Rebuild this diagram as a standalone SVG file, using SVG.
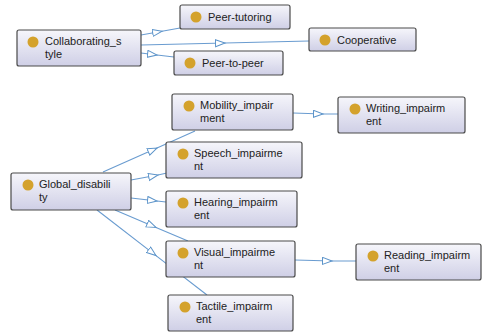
<svg xmlns="http://www.w3.org/2000/svg" width="482" height="334" viewBox="0 0 482 334">
<defs>
<linearGradient id="nodeFill" x1="0" y1="0" x2="0" y2="1">
<stop offset="0" stop-color="#f6f6fb"/>
<stop offset="1" stop-color="#cfcfe6"/>
</linearGradient>
<marker id="tri" markerWidth="12" markerHeight="10" refX="10" refY="4" orient="auto" markerUnits="userSpaceOnUse">
<path d="M0.5,0.5 L10,4 L0.5,7.5 Z" fill="#ffffff" stroke="#5b93c9" stroke-width="1"/>
</marker>
</defs>
<style>
.edge{fill:none;stroke:#6a9cd0;stroke-width:1.1;marker-mid:url(#tri)}
.box{fill:url(#nodeFill);stroke:#4a4a4a;stroke-width:1.2}
.dot{fill:#d4a22c}
.lbl{font-family:"Liberation Sans",Arial,sans-serif;font-size:11px;fill:#222}
</style>
<rect width="482" height="334" fill="#ffffff"/>
<g id="connectors">
<path class="edge" d="M141,35 L162,31.2 L180,28"/>
<path class="edge" d="M141,45 L225,43 L309,41"/>
<path class="edge" d="M141,53 L157,55 L174,57"/>
<path class="edge" d="M103,172 L157,148 L195,131"/>
<path class="edge" d="M131,180 L158,175 L167,173"/>
<path class="edge" d="M131,198 L157,201 L166,202"/>
<path class="edge" d="M115,210 L156,227.4 L188,241"/>
<path class="edge" d="M97,210 L156,255.6 L207,295"/>
<path class="edge" d="M293,113 L323,114 L338,114"/>
<path class="edge" d="M295,260 L332,261 L356,261"/>
</g>
<g id="Collaborating_style">
<rect class="box" x="17" y="30" width="124" height="36" rx="2"/>
<circle class="dot" cx="33" cy="42" r="5.5"/>
<text class="lbl" x="45" y="45">Collaborating_s</text>
<text class="lbl" x="45" y="58">tyle</text>
</g>
<g id="Peer-tutoring">
<rect class="box" x="180" y="5" width="110" height="24" rx="2"/>
<circle class="dot" cx="196" cy="17" r="5.5"/>
<text class="lbl" x="208" y="21">Peer-tutoring</text>
</g>
<g id="Cooperative">
<rect class="box" x="309" y="28" width="107" height="23" rx="2"/>
<circle class="dot" cx="325" cy="40" r="5.5"/>
<text class="lbl" x="337" y="44">Cooperative</text>
</g>
<g id="Peer-to-peer">
<rect class="box" x="174" y="51" width="109" height="24" rx="2"/>
<circle class="dot" cx="190" cy="63" r="5.5"/>
<text class="lbl" x="202" y="67">Peer-to-peer</text>
</g>
<g id="Mobility_impairment">
<rect class="box" x="172" y="94" width="121" height="36" rx="2"/>
<circle class="dot" cx="189" cy="106" r="5.5"/>
<text class="lbl" x="200" y="109">Mobility_impair</text>
<text class="lbl" x="200" y="122">ment</text>
</g>
<g id="Writing_impairment">
<rect class="box" x="338" y="97" width="127" height="36" rx="2"/>
<circle class="dot" cx="355" cy="109" r="5.5"/>
<text class="lbl" x="366" y="112">Writing_impairm</text>
<text class="lbl" x="366" y="125">ent</text>
</g>
<g id="Speech_impairment">
<rect class="box" x="166" y="142" width="136" height="36" rx="2"/>
<circle class="dot" cx="183" cy="154" r="5.5"/>
<text class="lbl" x="194" y="157">Speech_impairme</text>
<text class="lbl" x="194" y="170">nt</text>
</g>
<g id="Global_disability">
<rect class="box" x="11" y="173" width="120" height="37" rx="2"/>
<circle class="dot" cx="28" cy="185" r="5.5"/>
<text class="lbl" x="39" y="188">Global_disabili</text>
<text class="lbl" x="39" y="201">ty</text>
</g>
<g id="Hearing_impairment">
<rect class="box" x="166" y="191" width="131" height="36" rx="2"/>
<circle class="dot" cx="183" cy="203" r="5.5"/>
<text class="lbl" x="194" y="206">Hearing_impairm</text>
<text class="lbl" x="194" y="219">ent</text>
</g>
<g id="Visual_impairment">
<rect class="box" x="166" y="241" width="129" height="36" rx="2"/>
<circle class="dot" cx="183" cy="253" r="5.5"/>
<text class="lbl" x="194" y="256">Visual_impairme</text>
<text class="lbl" x="194" y="269">nt</text>
</g>
<g id="Reading_impairment">
<rect class="box" x="356" y="244" width="125" height="36" rx="2"/>
<circle class="dot" cx="373" cy="256" r="5.5"/>
<text class="lbl" x="384" y="259">Reading_impairm</text>
<text class="lbl" x="384" y="272">ent</text>
</g>
<g id="Tactile_impairment">
<rect class="box" x="168" y="295" width="125" height="36" rx="2"/>
<circle class="dot" cx="185" cy="307" r="5.5"/>
<text class="lbl" x="196" y="310">Tactile_impairm</text>
<text class="lbl" x="196" y="323">ent</text>
</g>
</svg>
